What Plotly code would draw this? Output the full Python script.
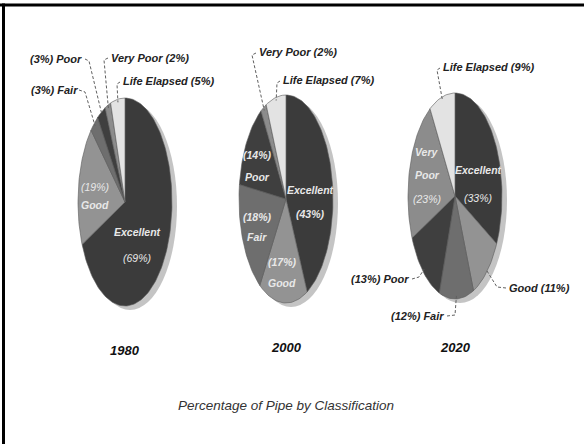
import numpy as np
import plotly.graph_objects as go

# ---- data ----
categories = ["Excellent", "Good", "Fair", "Poor", "Very Poor", "Life Elapsed"]
years = ["1980", "2000", "2020"]
pct_1980 = [69, 19, 3, 3, 2, 5]
pct_2000 = [43, 17, 18, 14, 2, 7]
pct_2020 = [33, 11, 12, 13, 23, 9]
title_text = "Percentage of Pipe by Classification"

# ---- styling / layout ----
W, H = 584, 444
colors = {
    "Excellent": "#3b3b3b",
    "Good": "#939393",
    "Fair": "#6e6e6e",
    "Poor": "#3f3f3f",
    "Very Poor": "#8c8c8c",
    "Life Elapsed": "#e3e3e3",
}
FONT = "Liberation Sans, Arial, sans-serif"
pies = [
    dict(year="1980", vals=pct_1980, cx=125, cy=202, a=47, b=104),
    dict(year="2000", vals=pct_2000, cx=286, cy=199, a=47, b=104),
    dict(year="2020", vals=pct_2020, cx=455, cy=196, a=47, b=103),
]

fig = go.Figure()


def pt(p, frac, r=1.0):
    ang = 2 * np.pi * frac
    return p["cx"] + r * p["a"] * np.sin(ang), p["cy"] - r * p["b"] * np.cos(ang)


def mid(p, cat):
    vals = np.array(p["vals"], float)
    fr = vals / vals.sum()
    i = categories.index(cat)
    return fr[:i].sum() + fr[i] / 2


shapes = []
for p in pies:
    # drop shadow
    shapes.append(dict(type="circle", xref="x", yref="y", layer="below",
                       x0=p["cx"] - p["a"] + 5, x1=p["cx"] + p["a"] + 5,
                       y0=p["cy"] - p["b"] + 4, y1=p["cy"] + p["b"] + 4,
                       fillcolor="#c4c4c4", line=dict(width=0)))
    vals = np.array(p["vals"], float)
    fr = vals / vals.sum()
    cum = np.concatenate([[0], np.cumsum(fr)])
    for i, cat in enumerate(categories):
        t = np.linspace(cum[i], cum[i + 1], max(4, int(fr[i] * 200)))
        xs, ys = pt(p, t)
        xs = np.concatenate([[p["cx"]], xs, [p["cx"]]])
        ys = np.concatenate([[p["cy"]], ys, [p["cy"]]])
        fig.add_trace(go.Scatter(x=xs, y=ys, mode="lines", fill="toself",
                                 fillcolor=colors[cat],
                                 line=dict(color="#5a5a5a", width=0.6),
                                 hoverinfo="skip", showlegend=False))

# leader lines: (pie index, category, label-side points)
leaders = [
    (0, "Fair", [(79, 90), (85, 92)]),
    (0, "Poor", [(85, 59), (89, 61)]),
    (0, "Very Poor", [(108, 58), (104, 60)]),
    (0, "Life Elapsed", [(120, 82), (117, 84)]),
    (1, "Very Poor", [(256, 53), (252, 55)]),
    (1, "Life Elapsed", [(280, 81), (277, 83)]),
    (2, "Life Elapsed", [(440, 68), (437, 70)]),
    (2, "Poor", [(412, 279), (419, 277)]),
    (2, "Fair", [(447, 316), (455, 315)]),
    (2, "Good", [(506, 288), (497, 287)]),
]
for pi, cat, pts in leaders:
    p = pies[pi]
    ex, ey = pt(p, mid(p, cat), 0.97)
    xs = [q[0] for q in pts] + [ex]
    ys = [q[1] for q in pts] + [ey]
    fig.add_trace(go.Scatter(x=xs, y=ys, mode="lines",
                             line=dict(color="#606060", width=1, dash="3px,2px"),
                             hoverinfo="skip", showlegend=False))

ann = []


def txt(x, y, s, size=11, color="#222222", anchor="center", weight="bold"):
    ann.append(dict(x=x, y=y, xref="x", yref="y", text=s, showarrow=False,
                    xanchor=anchor, yanchor="middle",
                    font=dict(family=FONT, size=size, color=color,
                              style="italic", weight=weight)))


def pct(p, cat):
    return p["vals"][categories.index(cat)]


p0, p1, p2 = pies
# outside labels
txt(80, 90, f"({pct(p0,'Fair')}%) Fair", anchor="right")
txt(84, 59, f"({pct(p0,'Poor')}%) Poor", anchor="right")
txt(109, 58, f"Very Poor ({pct(p0,'Very Poor')}%)", anchor="left")
txt(121, 81, f"Life Elapsed ({pct(p0,'Life Elapsed')}%)", anchor="left")
txt(257, 52, f"Very Poor ({pct(p1,'Very Poor')}%)", anchor="left")
txt(281, 80, f"Life Elapsed ({pct(p1,'Life Elapsed')}%)", anchor="left")
txt(441, 67, f"Life Elapsed ({pct(p2,'Life Elapsed')}%)", anchor="left")
txt(411, 279, f"({pct(p2,'Poor')}%) Poor", anchor="right")
txt(446, 316, f"({pct(p2,'Fair')}%) Fair", anchor="right")
txt(507, 288, f"Good ({pct(p2,'Good')}%)", anchor="left")

# inside labels
IN = "#e8e8e8"
S_IN = 10.5
txt(95, 187, f"({pct(p0,'Good')}%)", color=IN, size=S_IN, weight="normal")
txt(95, 205, "Good", color=IN, size=S_IN)
txt(137, 232, "Excellent", color=IN, size=S_IN)
txt(137, 258, f"({pct(p0,'Excellent')}%)", color=IN, size=S_IN, weight="normal")

txt(257, 155, f"({pct(p1,'Poor')}%)", color=IN, size=S_IN)
txt(257, 177, "Poor", color=IN, size=S_IN)
txt(310, 190, "Excellent", color=IN, size=S_IN)
txt(310, 214, f"({pct(p1,'Excellent')}%)", color=IN, size=S_IN)
txt(257, 217, f"({pct(p1,'Fair')}%)", color=IN, size=S_IN)
txt(257, 237, "Fair", color=IN, size=S_IN)
txt(282, 262, f"({pct(p1,'Good')}%)", color=IN, size=S_IN)
txt(282, 283, "Good", color=IN, size=S_IN)

txt(427, 152, "Very", color=IN, size=S_IN)
txt(427, 175, "Poor", color=IN, size=S_IN)
txt(427, 199, f"({pct(p2,'Very Poor')}%)", color=IN, size=S_IN, weight="normal")
txt(478, 170, "Excellent", color=IN, size=S_IN)
txt(478, 198, f"({pct(p2,'Excellent')}%)", color=IN, size=S_IN, weight="normal")

# year labels
for p, yy in zip(pies, [350, 347, 347]):
    txt(p["cx"], yy, p["year"], size=13, color="#111111")

# title
txt(286, 405, title_text, size=13.5, color="#333333", weight="normal")

# frame (top and left thick black lines)
shapes.append(dict(type="line", xref="paper", yref="paper", x0=0, x1=1, y0=1 - 5 / H, y1=1 - 5 / H,
                   line=dict(color="black", width=3)))
shapes.append(dict(type="line", xref="paper", yref="paper", x0=3.5 / W, x1=3.5 / W, y0=0, y1=1 - 3.5 / H,
                   line=dict(color="black", width=3)))

fig.update_layout(
    width=W, height=H,
    margin=dict(l=0, r=0, t=0, b=0),
    paper_bgcolor="white", plot_bgcolor="white",
    xaxis=dict(range=[0, W], visible=False, fixedrange=True),
    yaxis=dict(range=[H, 0], visible=False, fixedrange=True),
    shapes=shapes, annotations=ann,
    showlegend=False,
)
fig.write_html("out.html")
